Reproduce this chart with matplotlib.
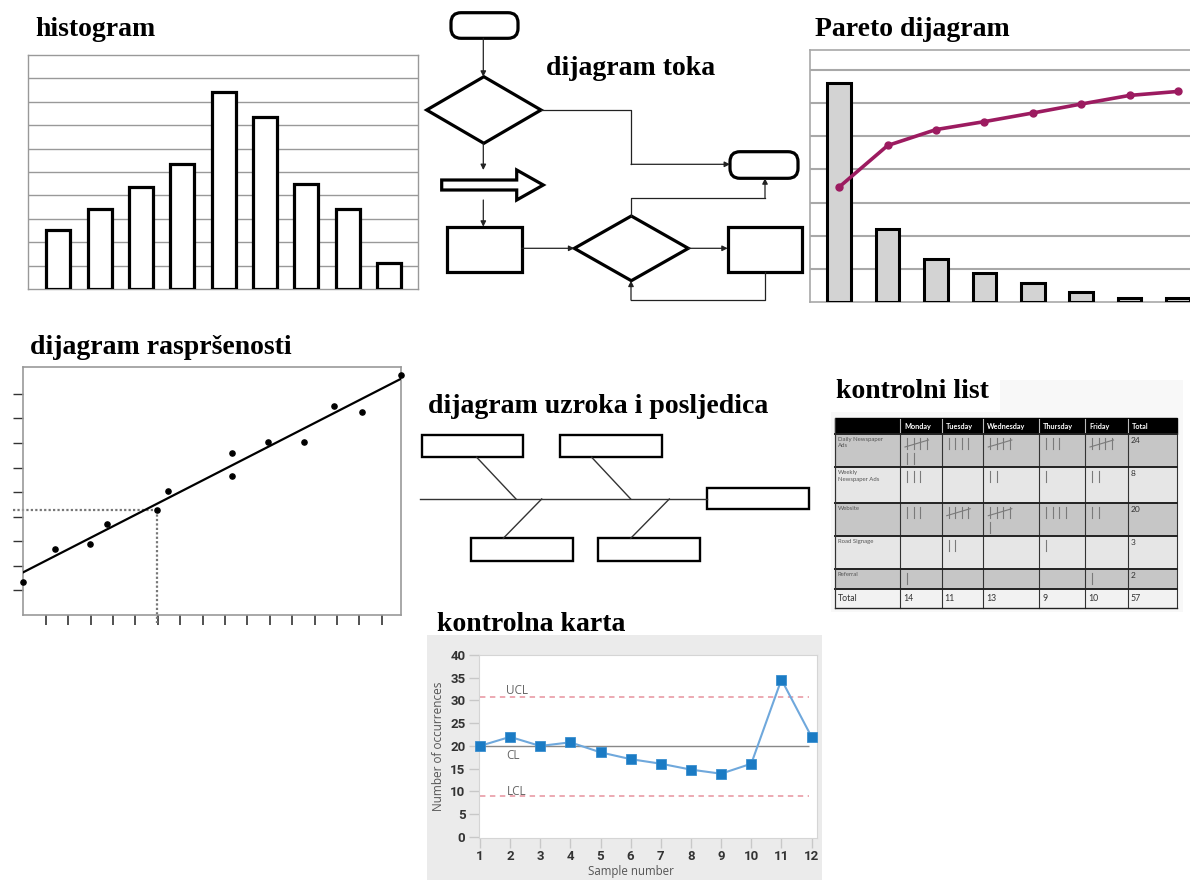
import matplotlib
matplotlib.use("Agg")
import matplotlib.pyplot as plt
import numpy as np
from matplotlib.patches import FancyBboxPatch, Rectangle, Polygon

# ---------------- data ----------------
hist_counts = [2.5, 3.4, 4.35, 5.35, 8.4, 7.35, 4.5, 3.4, 1.1]

pareto_bars = [6.6, 2.19, 1.3, 0.88, 0.58, 0.31, 0.13, 0.13]
pareto_cum = [3.47, 4.72, 5.20, 5.44, 5.70, 5.97, 6.23, 6.35]

scatter_x = [0.0, 1.42, 2.98, 3.72, 5.95, 6.47, 9.30, 9.30, 10.91, 12.53, 13.88, 15.11, 16.86]
scatter_y = [1.33, 2.69, 2.88, 3.69, 4.27, 5.06, 6.58, 5.66, 7.05, 7.05, 8.52, 8.27, 9.77]
trend_intercept = 1.74
trend_slope = 0.467
marked_point = 4  # index of the point with dotted guides

cc_samples = list(range(1, 13))
cc_values = [20, 22, 20, 20.8, 18.6, 17.1, 16.1, 14.8, 13.9, 16.1, 34.6, 22]
cc_ucl, cc_cl, cc_lcl = 30.8, 20, 9.1

tbl_days = ["Monday", "Tuesday", "Wednesday", "Thursday", "Friday"]
tbl_sources = ["Daily Newspaper\nAds", "Weekly\nNewspaper Ads", "Website", "Road Signage", "Referral"]
tbl_counts = [[7, 4, 5, 3, 5],
              [3, 0, 2, 1, 2],
              [3, 5, 6, 4, 2],
              [0, 2, 0, 1, 0],
              [1, 0, 0, 0, 1]]

titles = {"histogram": (35, 36), "dijagram toka": (546, 75), "Pareto dijagram": (815, 36),
          "dijagram raspršenosti": (30, 354), "dijagram uzroka i posljedica": (428, 413),
          "kontrolni list": (836, 398), "kontrolna karta": (437, 631)}

# ---------------- figure ----------------
W, H = 1190, 880
fig = plt.figure(figsize=(W / 100, H / 100), dpi=100)
fig.patch.set_facecolor("white")


def px_axes(x0, y0, x1, y1):
    return fig.add_axes([x0 / W, 1 - y1 / H, (x1 - x0) / W, (y1 - y0) / H])


bg = fig.add_axes([0, 0, 1, 1])
bg.set_xlim(0, W)
bg.set_ylim(H, 0)
bg.axis("off")

serif = ["Liberation Serif", "DejaVu Serif"]
for t, (x, y) in titles.items():
    bg.text(x, y, t, fontsize=20, fontweight="bold", family=serif, ha="left", va="baseline",
            zorder=5)

# ---------------- histogram ----------------
ax = px_axes(28, 55, 418, 289)
ax.bar(range(len(hist_counts)), hist_counts, width=0.58, color="white", edgecolor="black",
       linewidth=2.3, zorder=3)
ax.set_xlim(-0.73, 8.7)
ax.set_ylim(0, 10)
ax.set_yticks(range(1, 10))
ax.grid(axis="y", color="#999999", lw=1.0)
ax.tick_params(left=False, bottom=False, labelleft=False, labelbottom=False)
for s in ax.spines.values():
    s.set_color("#999999")
    s.set_linewidth(1.0)

# ---------------- pareto ----------------
ax = px_axes(810, 50, 1190, 302)
ax.bar(range(len(pareto_bars)), pareto_bars, width=0.49, color="#D3D3D3", edgecolor="black",
       linewidth=2.2, zorder=3)
ax.plot(range(len(pareto_cum)), pareto_cum, color="#9C1B60", lw=2.6, marker="o", ms=5, zorder=4)
ax.set_xlim(-0.605, 7.25)
ax.set_ylim(0, 7.6)
ax.set_yticks(range(1, 8))
ax.grid(axis="y", color="#A8A8A8", lw=1.5)
ax.tick_params(left=False, bottom=False, labelleft=False, labelbottom=False)
ax.spines["right"].set_visible(False)
for k in ["left", "top", "bottom"]:
    ax.spines[k].set_color("#A8A8A8")
    ax.spines[k].set_linewidth(1.2)

# ---------------- flowchart ----------------
LW = 2.3
CL = "#222222"


def rrect(x0, y0, x1, y1, r=10):
    bg.add_patch(FancyBboxPatch((x0, y0), x1 - x0, y1 - y0,
                                boxstyle=f"round,pad=0,rounding_size={r}",
                                fc="white", ec="black", lw=LW))


def rect(x0, y0, x1, y1, lw=LW):
    bg.add_patch(Rectangle((x0, y0), x1 - x0, y1 - y0, fc="white", ec="black", lw=lw))


def diamond(l, r, t, b):
    cx, cy = (l + r) / 2, (t + b) / 2
    bg.add_patch(Polygon([(l, cy), (cx, t), (r, cy), (cx, b)], closed=True,
                         fc="white", ec="black", lw=LW, joinstyle="miter"))


def connector(pts):
    xs = [p[0] for p in pts]
    ys = [p[1] for p in pts]
    bg.plot(xs[:-1], ys[:-1], color=CL, lw=0.9)
    bg.annotate("", xy=pts[-1], xytext=pts[-2],
                arrowprops=dict(arrowstyle="-|>", color=CL, lw=0.9, mutation_scale=8,
                                shrinkA=0, shrinkB=0))


rrect(451, 12.7, 518, 38.3)
diamond(426.7, 541, 76.7, 143.3)
rrect(730, 151.7, 798, 178.3)
bg.add_patch(Polygon([(441.7, 180), (516.7, 180), (516.7, 170), (543.3, 185), (516.7, 200),
                      (516.7, 190), (441.7, 190)], closed=True, fc="white", ec="black",
                     lw=LW, joinstyle="miter"))
rect(446.7, 226.7, 521.7, 271.7)
diamond(574.3, 688.3, 216, 280.7)
rect(727.7, 226.7, 802.3, 271.7)

connector([(483.3, 38.3), (483.3, 76.7)])
connector([(541, 110), (631, 110), (631, 164.3), (730, 164.3)])
connector([(483.3, 143.3), (483.3, 170)])
connector([(483.3, 200), (483.3, 226.7)])
connector([(521.7, 248.3), (574.3, 248.3)])
connector([(631, 216), (631, 198.3), (765, 198.3), (765, 178.3)])
connector([(688.3, 248.3), (727.7, 248.3)])
connector([(765, 271.7), (765, 300), (631, 300), (631, 280.7)])

# ---------------- fishbone ----------------
bg.plot([420, 707], [499, 499], color="#333333", lw=1.0)
for (x0, y0, x1, y1) in [(421.7, 435, 523.3, 457.3), (560, 435, 662.3, 457.3),
                         (707.3, 487.7, 809.3, 509.3), (471, 538.3, 573.3, 560.7),
                         (598.3, 538.3, 700, 560.7)]:
    rect(x0, y0, x1, y1, lw=1.7)
for (xa, ya, xb, yb) in [(476.7, 457.3, 516, 499), (591.7, 457.3, 630.7, 499),
                         (541.7, 499, 503.3, 538.3), (669.3, 499, 630.7, 538.3)]:
    bg.plot([xa, xb], [ya, yb], color="#333333", lw=1.0)

# ---------------- scatter ----------------
ax = px_axes(23.3, 367.3, 401, 615)
ax.scatter(scatter_x, scatter_y, s=14, color="black", zorder=4, clip_on=False)
tx = np.array([0, 16.86])
ax.plot(tx, trend_intercept + trend_slope * tx, color="black", lw=1.6, zorder=3)
mx, my = scatter_x[marked_point], scatter_y[marked_point]
ax.plot([-0.45, mx], [my, my], color="#777777", lw=1.6, ls=(0, (1, 1)), clip_on=False)
ax.plot([mx, mx], [my, -0.33], color="#777777", lw=1.6, ls=(0, (1, 1)), clip_on=False)
ax.set_xlim(0, 16.86)
ax.set_ylim(0, 10.08)
ax.set_xticks(range(1, 17))
ax.set_yticks(range(1, 10))
ax.tick_params(axis="x", direction="out", length=7.5, width=1.2, color="#333333", labelbottom=False)
ax.tick_params(axis="y", direction="out", length=7.0, width=1.0, color="#333333", labelleft=False)
for s in ax.spines.values():
    s.set_color("#999999")
    s.set_linewidth(1.2)

# ---------------- control sheet ----------------
cols_x = [835, 900, 941.7, 983.3, 1039.3, 1085, 1127.7, 1176.7]
rows_y = [418.3, 434, 467.3, 502.7, 536, 569.3, 589.3, 608.3]
bg.add_patch(Rectangle((1000, 380), 183, 32, fc="#F8F8F8", ec="none", zorder=0))
bg.add_patch(Rectangle((831, 412), 352, 200, fc="#F8F8F8", ec="none", zorder=0))
row_colors = ["#C6C6C6", "#E6E6E6", "#C6C6C6", "#E6E6E6", "#C6C6C6", "#F2F2F2"]
sans = ["Lato", "DejaVu Sans"]
bg.add_patch(Rectangle((cols_x[0], rows_y[0]), cols_x[-1] - cols_x[0], rows_y[1] - rows_y[0],
                       fc="black", ec="black", lw=1))
for j, d in enumerate(tbl_days + ["Total"]):
    bg.text(cols_x[j + 1] + 4, (rows_y[0] + rows_y[1]) / 2, d, color="white", fontsize=5.2,
            fontweight="bold", family=sans, ha="left", va="center")
for c in cols_x[1:-1]:
    bg.plot([c, c], [rows_y[0] + 1, rows_y[1]], color="#BBBBBB", lw=0.8)
for i in range(6):
    y0, y1 = rows_y[i + 1], rows_y[i + 2]
    bg.add_patch(Rectangle((cols_x[0], y0), cols_x[-1] - cols_x[0], y1 - y0,
                           fc=row_colors[i], ec="none"))


def tally(x0, y0, n):
    y = y0
    while n > 0:
        k = min(n, 5)
        for m in range(min(k, 4)):
            bg.plot([x0 + m * 6.5, x0 + m * 6.5], [y, y + 11], color="#7A7A7A", lw=0.8)
        if k == 5:
            bg.plot([x0 - 2, x0 + 3 * 6.5 + 2], [y + 9, y + 2], color="#7A7A7A", lw=0.8)
        n -= k
        y += 15


for i, src in enumerate(tbl_sources):
    y0 = rows_y[i + 1]
    bg.text(cols_x[0] + 3, y0 + 3, src, fontsize=4.3, color="#555555", family=sans,
            ha="left", va="top", linespacing=1.3)
    for j, n in enumerate(tbl_counts[i]):
        tally(cols_x[j + 1] + 7, y0 + 4, n)
    bg.text(cols_x[6] + 3, y0 + 3, str(sum(tbl_counts[i])), fontsize=6, color="#333333",
            family=sans, ha="left", va="top")
ty = (rows_y[-2] + rows_y[-1]) / 2
bg.text(cols_x[0] + 3, ty, "Total", fontsize=6.3, color="#333333", family=sans, ha="left", va="center")
day_tot = [sum(r[j] for r in tbl_counts) for j in range(5)]
for j, v in enumerate(day_tot + [sum(day_tot)]):
    bg.text(cols_x[j + 1] + 3, ty, str(v), fontsize=6.3, color="#333333", family=sans,
            ha="left", va="center")
for c in cols_x:
    bg.plot([c, c], [rows_y[1], rows_y[-1]], color="#333333", lw=0.8)
for k, r in enumerate(rows_y[1:]):
    bg.plot([cols_x[0], cols_x[-1]], [r, r], color="#222222", lw=1.4 if k < 6 else 1.0)
bg.plot([cols_x[0], cols_x[0]], [rows_y[0], rows_y[-1]], color="#333333", lw=0.8)

# ---------------- control chart ----------------
bg.add_patch(Rectangle((427, 635), 395, 245, fc="#EBEBEB", ec="none"))
ax = px_axes(479.3, 655, 817.3, 838.3)
ax.set_facecolor("white")
ax.plot(cc_samples, cc_values, color="#6FA8DC", lw=1.5, marker="s", ms=6.5,
        mfc="#1B7BC4", mec="#3A8FD0", mew=0.6, zorder=4, clip_on=False)
ax.hlines(cc_cl, 1, 11.9, color="#888888", lw=1.0, zorder=2)
ax.hlines([cc_ucl, cc_lcl], 1, 11.9, color="#EBA3AC", lw=1.3, linestyles=(0, (3, 2.5)), zorder=2)
lab = dict(fontsize=8.5, color="#666666", family=["Open Sans", "DejaVu Sans"], ha="left", va="center")
ax.text(1.88, cc_ucl + 1.5, "UCL", **lab)
ax.text(1.88, cc_cl - 2.2, "CL", **lab)
ax.text(1.88, cc_lcl + 0.9, "LCL", **lab)
ax.set_xlim(0.98, 12.19)
ax.set_ylim(-0.3, 40)
ax.set_xticks(cc_samples)
ax.set_yticks(range(0, 41, 5))
tick_font = dict(family=["Roboto", "DejaVu Sans"], weight="bold", size=9.5)
ax.set_xticklabels([str(v) for v in cc_samples], **tick_font, color="#333333")
ax.set_yticklabels([str(v) for v in range(0, 41, 5)], **tick_font, color="#333333")
ax.tick_params(axis="both", length=7, width=1, color="#C8C8C8", pad=3)
ax.tick_params(axis="x", pad=1.5)
for s in ax.spines.values():
    s.set_color("#D5D5D5")
    s.set_linewidth(0.8)
ax.set_ylabel("Number of occurrences", fontsize=8.5, color="#555555",
              family=["Open Sans", "DejaVu Sans"], labelpad=4)
bg.text(631, 871, "Sample number", fontsize=8.3, color="#555555",
        family=["Open Sans", "DejaVu Sans"], ha="center", va="center")

fig.savefig("out.png", dpi=100, facecolor="white")
